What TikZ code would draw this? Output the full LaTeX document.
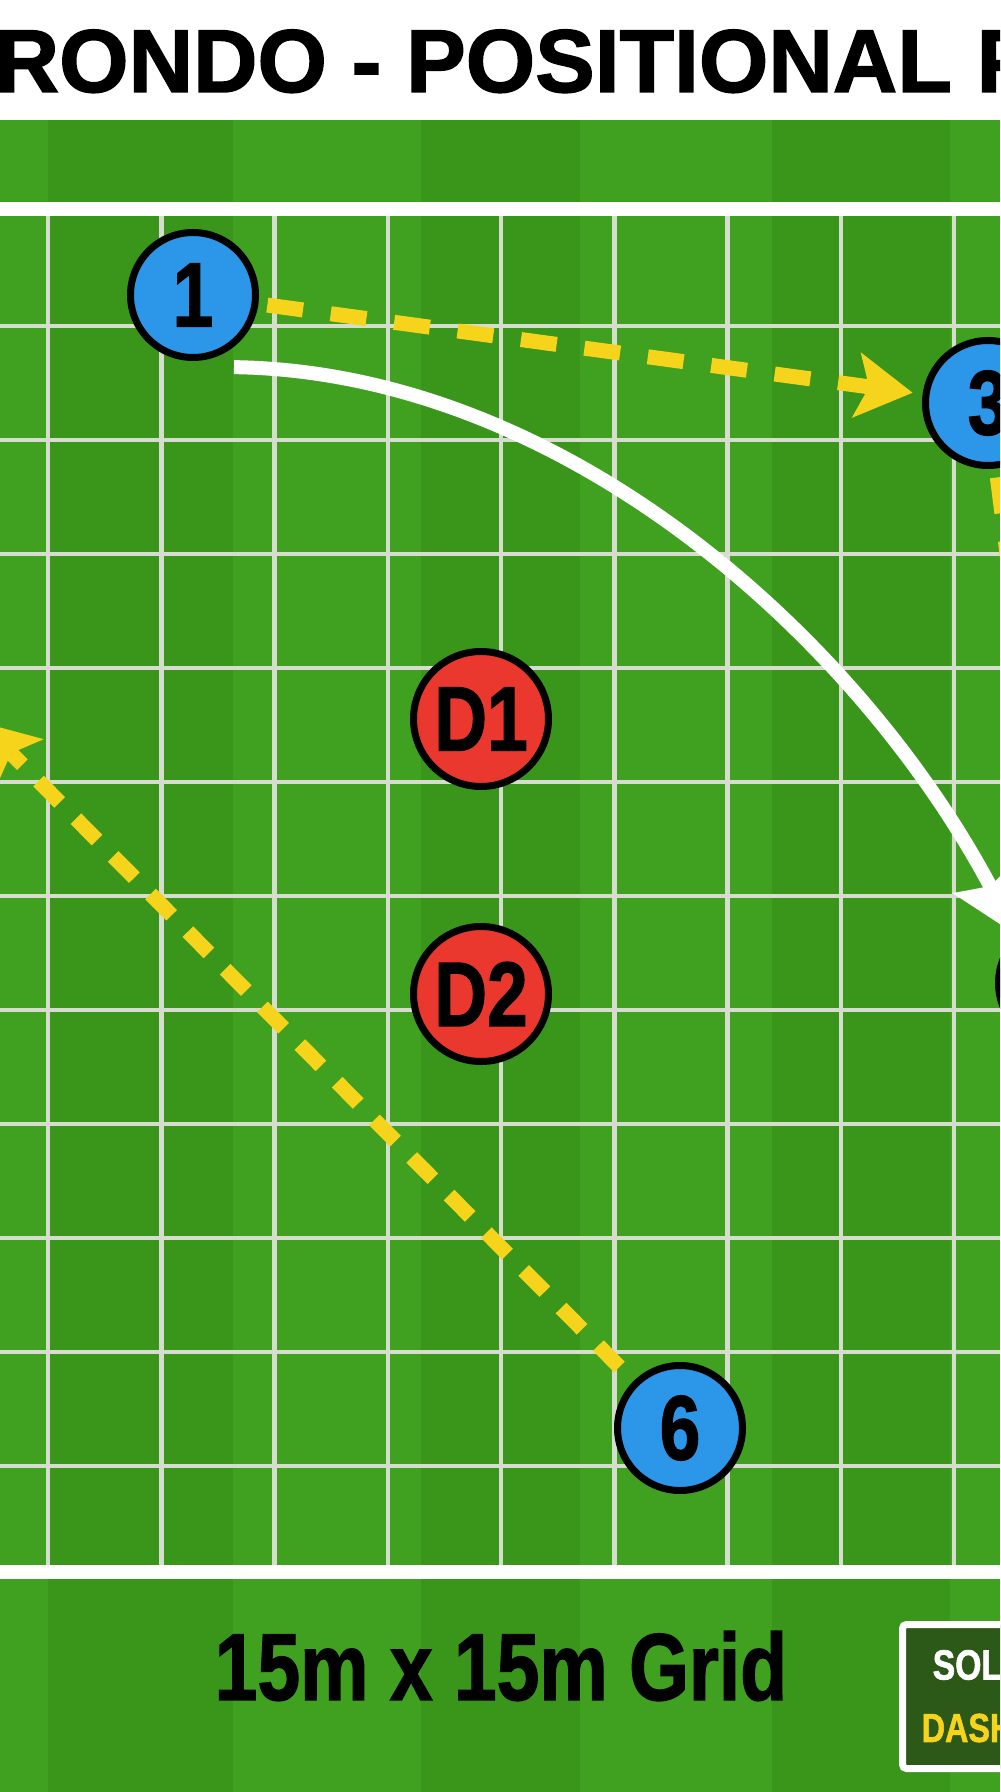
\documentclass[tikz,border=0pt]{standalone}
\usepackage{fontspec}
\setmainfont{Liberation Sans}
\newfontfamily\heavyfont[FakeBold=1.6]{Liberation Sans}
\usepackage{graphicx}
\usetikzlibrary{arrows.meta}

\definecolor{turf}{RGB}{64,160,31}
\definecolor{turfdark}{RGB}{57,150,27}
\definecolor{chalk}{RGB}{214,220,206}
\definecolor{attack}{RGB}{44,150,232}
\definecolor{defend}{RGB}{234,56,46}
\definecolor{passyellow}{RGB}{246,212,28}
\definecolor{legendbg}{RGB}{44,88,24}

\tikzstyle{player} = [circle,draw=black,line width=0.7mm,minimum size=12.5mm,inner sep=0pt,font=\heavyfont\bfseries\fontsize{26}{26}\selectfont]
\tikzstyle{attacker} = [player,fill=attack]
\tikzstyle{defender} = [player,fill=defend,minimum size=13.5mm]
\tikzstyle{cell line} = [draw=chalk,line width=0.45mm]
\tikzstyle{border line} = [draw=white,line width=1.4mm]
\tikzstyle{pass} = [draw=passyellow,line width=1.5mm,dash pattern=on 3.6mm off 2.8mm,-{Stealth[length=5.6mm,width=6.4mm,inset=1.2mm]}]
\tikzstyle{run} = [draw=white,line width=1.4mm,-{Stealth[length=6.5mm,width=7mm,inset=1mm]}]

\begin{document}
\begin{tikzpicture}[x=0.1mm,y=-0.1mm]
      \useasboundingbox (0,0) rectangle (1000,1792);
      \clip (0,0) rectangle (1000,1792);
      %pitch
      \fill[turf] (0,120) rectangle (1000,1792);
      \foreach \sa/\sb in {48/233,421/580,772/950}
        \fill[turfdark] (\sa,120) rectangle (\sb,1792);
      \fill[white] (0,0) rectangle (1000,120);
      \foreach \gx in {0,...,8}
        \draw[cell line] (48+113.25*\gx,209) -- (48+113.25*\gx,1572);
      \foreach \gy in {0,...,10}
        \draw[cell line] (0,326+114*\gy) -- (1000,326+114*\gy);
      \draw[border line] (0,209) -- (1000,209);
      \draw[border line] (0,1572) -- (1000,1572);

      %texts
      \node[anchor=base west,inner sep=0pt,font=\heavyfont\bfseries\fontsize{25.4}{26}\selectfont] (title) at (-6,92) {RONDO - POSITIONAL P};
      \node[inner sep=0pt,font=\heavyfont\bfseries\fontsize{27}{27}\selectfont] (gridsize) at (501,1666) {\scalebox{0.81}[1]{15m x 15m Grid}};
      \node[draw=white,fill=legendbg,line width=0.7mm,rounded corners=0.4mm,minimum width=40mm,minimum height=14.4mm,anchor=north west,inner sep=0pt] (legend) at (899,1621) {};
      \node[anchor=west,inner sep=0pt,text=white,font=\heavyfont\bfseries\fontsize{12}{12}\selectfont] (solidkey) at (932,1665) {\scalebox{0.8}[1]{SOLID}};
      \node[anchor=west,inner sep=0pt,text=passyellow,font=\heavyfont\bfseries\fontsize{11.5}{12}\selectfont] (dashkey) at (921,1728) {\scalebox{0.8}[1]{DASHED}};

      %nodes
      \foreach \nodename/\x/\y/\plabel/\kind in {
        p1/193/295/1/attacker,
        p3/988/403/3/attacker,
        p6/680/1428/6/attacker,
        d1/481/719/D1/defender,
        d2/481/994/D2/defender}
      {
        \node[\kind] (\nodename) at (\x,\y) {\scalebox{0.8}[1]{\plabel}};
      };
      \node[attacker] (p4) at (1061,983) {};
      \coordinate (wide) at (-20,722);

      %edges
      \path
      (p1) edge[pass,shorten <=0.9mm,shorten >=1mm] (p3)
      (p3) edge[pass,shorten <=0.9mm] (p4)
      (p6) edge[pass,dash pattern=on 3mm off 2.3mm,shorten <=2mm] (wide);
      \draw[run] ([xshift=0.8mm,yshift=-1.5mm]p1.-60) .. controls (565,372) and (860,640) .. (p4.133);
    \end{tikzpicture}
\end{document}
